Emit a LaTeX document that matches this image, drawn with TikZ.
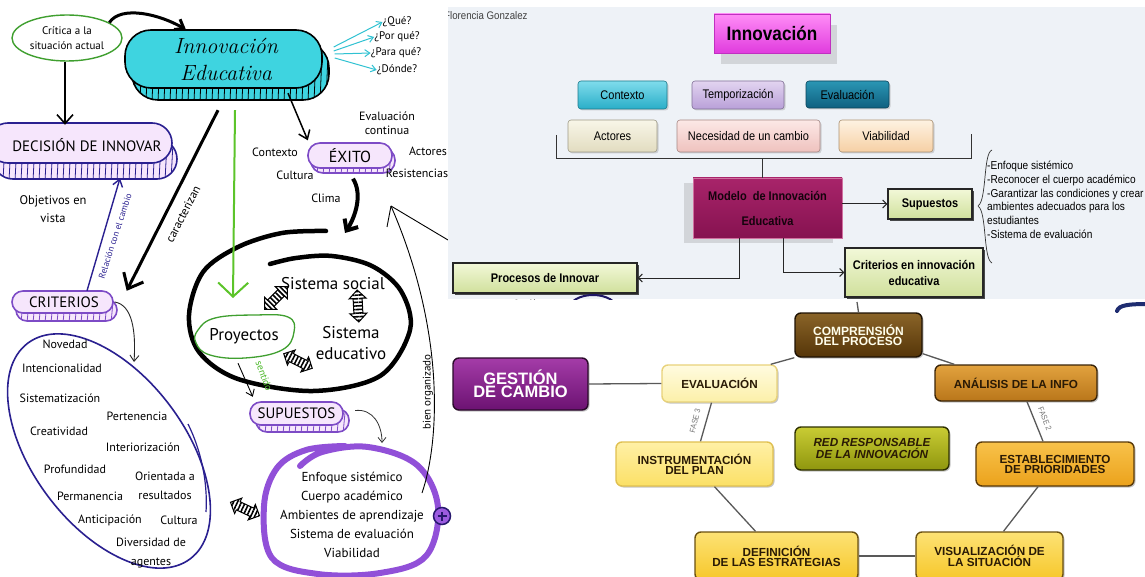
\documentclass[tikz,border=0pt]{standalone}
\usepackage{fontspec}
\usepackage{graphicx}
\newfontfamily\arial{Liberation Sans}
\newfontfamily\hand{PT Sans}
\usetikzlibrary{arrows.meta,shapes.geometric,shapes.arrows,shadows,patterns.meta}

\definecolor{innocyan}{HTML}{3ED4E0}
\definecolor{lav}{HTML}{F6E6FC}
\definecolor{navyline}{HTML}{2A2090}
\definecolor{purpleline}{HTML}{7D4BC6}
\definecolor{critgreen}{HTML}{3F9F2F}
\definecolor{greenline}{HTML}{5CC42A}
\definecolor{sentgreen}{HTML}{4CB82A}
\definecolor{cyanline}{HTML}{30C2D2}
\definecolor{blobpurple}{HTML}{9150D8}
\definecolor{plusfill}{HTML}{9C5BE0}
\definecolor{plusnavy}{HTML}{27186E}
\definecolor{panelbg}{HTML}{EEF2F7}
% upper diagram
\definecolor{magt}{HTML}{FF8CF6}\definecolor{magb}{HTML}{E03CDE}\definecolor{magd}{HTML}{C030C0}
\definecolor{ctxt}{HTML}{7FDCEC}\definecolor{ctxb}{HTML}{2AAEC8}
\definecolor{temt}{HTML}{E2D4F0}\definecolor{temb}{HTML}{B9A0D8}
\definecolor{evat}{HTML}{2A96B4}\definecolor{evab}{HTML}{0F6080}
\definecolor{actt}{HTML}{F8F6E8}\definecolor{actb}{HTML}{E2DCC0}
\definecolor{nect}{HTML}{FCE8E6}\definecolor{necb}{HTML}{EFC2BE}
\definecolor{viat}{HTML}{FEF2E2}\definecolor{viab}{HTML}{F6D0A4}
\definecolor{modt}{HTML}{A8246A}\definecolor{modb}{HTML}{861250}\definecolor{modd}{HTML}{D070A0}
\definecolor{gtop}{HTML}{F2F8D8}\definecolor{gbot}{HTML}{D0E09C}
% lower diagram
\definecolor{gestt}{HTML}{A43CA8}\definecolor{gestb}{HTML}{6C1272}\definecolor{gestd}{HTML}{2A0A2A}
\definecolor{compt}{HTML}{8A6428}\definecolor{compb}{HTML}{553508}\definecolor{compd}{HTML}{1E1204}
\definecolor{inft}{HTML}{E2A23E}\definecolor{infb}{HTML}{B9761A}\definecolor{infd}{HTML}{3A2408}
\definecolor{estt}{HTML}{F8C24A}\definecolor{estb}{HTML}{EBA21C}\definecolor{estd}{HTML}{5A3A08}
\definecolor{yelt}{HTML}{FDE274}\definecolor{yelb}{HTML}{F6C72A}\definecolor{yeld}{HTML}{6A5010}
\definecolor{inst}{HTML}{FFF0A6}\definecolor{insb}{HTML}{FBE066}\definecolor{insd}{HTML}{E0C050}
\definecolor{evlt}{HTML}{FFFBE0}\definecolor{evlb}{HTML}{FCF0A8}\definecolor{evld}{HTML}{E8D27A}
\definecolor{redt}{HTML}{C9CC34}\definecolor{redb}{HTML}{8F960E}\definecolor{redd}{HTML}{2E3000}
\definecolor{btext}{HTML}{2A1A05}

\newcommand\fs[2]{\fontsize{#1}{#2}\selectfont}
\newcommand\nar[1]{\scalebox{0.88}[1]{#1}}
% 3D pill: face (#1,#2)-(#3,#4), corner radius #5, depth offset (#6,#7), fill #8, outline #9
\newcommand\pill[9]{%
  \begin{scope}
    \clip[rounded corners=#5] ({#1+#6},{#2+#7}) rectangle ({#3+#6},{#4+#7});
    \fill[#8] ({#1+#6},{#2+#7}) rectangle ({#3+#6},{#4+#7});
    \foreach \k in {0,...,45}{\draw[#9,line width=.8] ({#1+6*\k},{#2}) -- ({#1+6*\k-3},{#4+#7+2});}
  \end{scope}
  \draw[#9,line width=1.6,rounded corners=#5] ({#1+#6},{#2+#7}) rectangle ({#3+#6},{#4+#7});
  \draw[#9,line width=1.6,rounded corners=#5,fill=#8] (#1,#2) rectangle (#3,#4);
}

\begin{document}
\begin{tikzpicture}[x=1pt,y=-1pt,
  lbl/.style={font=\hand\fs{12}{14}, inner sep=0, align=center},
  thinarr/.style={line width=1, -{Straight Barb[length=4pt,width=8pt]}},
  tbox/.style={draw=#1, line width=.6, rounded corners=3, inner sep=0, align=center,
    font=\arial\fs{12.5}{14}, drop shadow={shadow xshift=1.5pt,shadow yshift=-1.5pt,opacity=.3}},
  gbox/.style={draw=black!85, line width=1.2, top color=gtop, bottom color=gbot, inner sep=0,
    align=center, font=\arial\bfseries\fs{12.5}{16},
    drop shadow={shadow xshift=2pt,shadow yshift=-2pt,fill=black,opacity=.7}},
  bbox/.style={rounded corners=6, line width=1.4, inner sep=0, align=center, text=btext,
    font=\arial\bfseries\fs{11.7}{10},
    drop shadow={shadow xshift=1.5pt,shadow yshift=-1.5pt,opacity=.45}},
  conn/.style={draw=black!65, line width=1.3},
  dbl/.style={double arrow, draw=black, line width=1, minimum height=32, inner sep=4pt,
    double arrow head extend=4pt, fill=white,
    postaction={pattern={Lines[angle=#1,distance=3.6pt,line width=1.6pt]}}},
]
\fill[white] (0,0) rectangle (1145,577);
\useasboundingbox (0,0) rectangle (1145,577);

% ================= hand-drawn concept map =================
\node[ellipse, draw=critgreen, line width=1.4, minimum width=110, minimum height=46, lbl,
  font=\hand\fs{11}{15}] (crit) at (67,38) {Crítica a la\\situación actual};

\pill{125}{30}{322}{88}{26}{7}{12}{innocyan}{black}
\node[inner sep=0, minimum width=197, minimum height=58, align=center,
  font=\itshape\fs{22}{27}] (innov) at (226,59) {Innovación\\Educativa};
\draw[line width=3, -{Straight Barb[length=8pt,width=12pt]}]
  (crit.20) .. controls +(12,-18) and +(-25,-15) .. ([xshift=-40pt]innov.north);

\node[lbl, font=\hand\fs{11}{12}] (qa) at (397,22) {¿Qué?};
\node[lbl, font=\hand\fs{11}{12}] (qb) at (397,37) {¿Por qué?};
\node[lbl, font=\hand\fs{11}{12}] (qc) at (396,53) {¿Para qué?};
\node[lbl, font=\hand\fs{11}{12}] (qd) at (397,70) {¿Dónde?};
\begin{scope}[cyanline, line width=1, -{Straight Barb[length=5pt,width=7pt]}]
  \draw ([shift={(9,-12)}]innov.east) -- (qa.west);
  \draw ([shift={(9,-8)}]innov.east) -- (qb.west);
  \draw ([shift={(10,-5)}]innov.east) -- (qc.west);
  \draw ([shift={(10,-1)}]innov.east) -- (qd.west);
\end{scope}

% decision
\pill{-12}{123}{172}{163}{20}{5}{16}{lav}{navyline}
\node[lbl, font=\hand\fs{15}{16}, minimum width=170, minimum height=40] (decision) at (87,145) {DECISIÓN DE INNOVAR};
\draw[line width=1.6, -{Straight Barb[length=9pt,width=16pt]}] ([xshift=-2pt]crit.south) -- ([xshift=-22pt]decision.north);
\node[lbl, font=\hand\fs{12.5}{18}] (obj) at (53,209) {Objetivos en\\vista};

% criterios
\pill{12}{291}{113}{313}{11}{4}{8}{lav}{purpleline}
\node[lbl, font=\hand\fs{15}{16}, minimum width=101, minimum height=22] (criterios) at (64,302) {CRITERIOS};
\draw[line width=3, -{Straight Barb[length=13pt,width=22pt]}]
  ([shift={(-8,22)}]innov.south) -- ([xshift=12pt]criterios.north east);
\node[lbl, rotate=63] (carac) at (183,214) {caracterizan};
\draw[navyline, line width=1.4, -{Straight Barb[length=7pt,width=10pt]}]
  ([xshift=23pt]criterios.north) -- ([shift={(33,13)}]decision.south);
\node[lbl, font=\hand\fs{9}{10}, text=navyline, rotate=72] (relac) at (115,236) {Relación con el cambio};

% exito
\pill{308}{143}{392}{168}{12}{3}{5}{lav}{purpleline}
\node[lbl, font=\hand\fs{16}{17}, minimum width=84, minimum height=25] (exito) at (350,156) {ÉXITO};
\draw[line width=1.5, -{Straight Barb[length=8pt,width=12pt]}]
  ([shift={(62,5)}]innov.south) -- ([shift={(0,-3)}]exito.north west);
\node[lbl, align=center] (evc) at (387,123) {Evaluación\\continua};
\node[lbl] (ctx) at (275,152) {Contexto};
\node[lbl] (act) at (428,151) {Actores};
\node[lbl] (cul) at (295,175) {Cultura};
\node[lbl] (res) at (417,173) {Resistencias};
\node[lbl] (cli) at (326,198) {Clima};

% ring of systems
\coordinate (ringIn) at (345,233);
\draw[line width=4, -{Straight Barb[length=9pt,width=16pt]}]
  ([shift={(3,10)}]exito.south) .. controls +(10,16) and +(10,-16) .. (ringIn);
\draw[line width=4.5, line cap=round] plot[smooth, tension=.55] coordinates
  {(326,231) (282,233) (238,247) (203,272) (189,315) (199,352) (238,379) (313,391)
   (380,376) (410,330) (401,291) (372,266) (332,256) (296,258) (270,264)};

\coordinate (greenTip) at (233,298);
\draw[greenline, line width=2, -{Straight Barb[length=14pt,width=30pt]}]
  ([shift={(9,22)}]innov.south) -- (greenTip);

\draw[critgreen, line width=1.3] plot[smooth cycle, tension=.7] coordinates
  {(198,330) (215,318) (255,315) (288,317) (294,332) (282,350) (245,358) (210,355) (196,343)};
\node[lbl, font=\hand\fs{17}{18}, minimum width=98, minimum height=42] (proy) at (244,336) {Proyectos};
\node[lbl, font=\hand\fs{17}{18}] (soc) at (333,284) {Sistema social};
\node[lbl, font=\hand\fs{17}{21}] (edu) at (351,343) {Sistema\\educativo};

\node[dbl=135, rotate=45] (da1) at (276,298) {};
\node[dbl=183, rotate=93] (da2) at (358,306) {};
\node[dbl=63, rotate=-27] (da3) at (298,361) {};
\node[dbl=65, rotate=-25] (da4) at (245,509) {};

% supuestos
\pill{250}{402}{343}{425}{11}{6}{7}{lav}{purpleline}
\node[lbl, font=\hand\fs{15}{16}, minimum width=93, minimum height=23] (sup) at (296.5,413.5) {SUPUESTOS};
\node[lbl, font=\hand\fs{10}{11}, text=sentgreen, rotate=-70] (sent) at (264,376) {sentido};
\draw[line width=.9, -{Straight Barb[length=6pt,width=9pt]}]
  ([shift={(-6,6)}]proy.south) -- ([shift={(3,-5)}]sup.north west);

\draw[blobpurple, line width=6, line cap=round] plot[smooth, tension=.6] coordinates
  {(300,466) (322,452) (368,447) (417,465) (438,507) (426,556) (380,573) (318,574)
   (272,558) (264,506) (277,468) (306,450) (345,446)};
\node[lbl, font=\hand\fs{13}{19}] (supl) at (352,515)
  {Enfoque sistémico\\Cuerpo académico\\Ambientes de aprendizaje\\Sistema de evaluación\\Viabilidad};
\coordinate (listIn) at (382,443);
\draw[line width=.8, black!80, -{Straight Barb[length=5pt,width=8pt]}]
  ([shift={(12,-3)}]sup.east) .. controls +(18,-2) and +(0,-18) .. (listIn);

\node[circle, draw=plusnavy, fill=plusfill, line width=1.5, minimum size=17, inner sep=0] (plus) at (442,516) {};
\draw[plusnavy, line width=2.2] ([xshift=-4.5pt]plus.center) -- ([xshift=4.5pt]plus.center)
  ([yshift=-4.5pt]plus.center) -- ([yshift=4.5pt]plus.center);

\coordinate (bienTip) at (391,206);
\draw[line width=.9] ([shift={(-20,-23)}]plus.center) .. controls (440,440) and (445,330) .. (bienTip);
\draw[line width=.9] (bienTip) -- ++(-4,21) (bienTip) -- ++(57,34);
\node[lbl, font=\hand\fs{11}{12}, rotate=90] (bien) at (428,392) {bien organizado};

% criteria
\draw[navyline, line width=1.6, rotate around={-53:(109,451)}] (109,451) ellipse [x radius=135, y radius=76];
\draw[navyline, line width=1.2] (188,424) .. controls (200,448) and (208,480) .. (206,512);
\coordinate (critIn) at (134,362);
\draw[line width=.9, black!85, -{Straight Barb[length=6pt,width=9pt]}]
  (criterios.east) .. controls +(18,3) and +(2,-30) .. (critIn);
\node[lbl] (cNov) at (65,344) {Novedad};
\node[lbl] (cInt) at (62,368) {Intencionalidad};
\node[lbl] (cSis) at (60,398) {Sistematización};
\node[lbl] (cPer) at (137,416) {Pertenencia};
\node[lbl] (cCre) at (59,431) {Creatividad};
\node[lbl] (cInr) at (143,447) {Interiorización};
\node[lbl] (cPro) at (75,469) {Profundidad};
\node[lbl, font=\hand\fs{12}{19}] (cOri) at (165,486) {Orientada a\\resultados};
\node[lbl] (cPerm) at (90,496) {Permanencia};
\node[lbl] (cAnt) at (110,520) {Anticipación};
\node[lbl] (cCul) at (179,520) {Cultura};
\node[lbl, font=\hand\fs{12}{19}] (cDiv) at (151,553) {Diversidad de\\agentes};

% ================= innovation model panel =================
\fill[panelbg] (448,7) rectangle (1145,299);
\begin{scope}
\clip (448,7) rectangle (1145,299);
\node[anchor=west, font=\arial\fs{11}{12}, text=black!75, inner sep=0] (autor) at (444,16) {\nar{Florencia Gonzalez}};

\node[draw=magd, line width=.6, top color=magt, bottom color=magb, inner sep=0,
  minimum width=116, minimum height=39, font=\arial\bfseries\fs{19.5}{20},
  drop shadow={shadow xshift=7pt,shadow yshift=-11pt,opacity=.25}] (titulo) at (772,33.5) {\nar{Innovación}};

\node[tbox=ctxb!70!black, top color=ctxt, bottom color=ctxb, minimum width=89, minimum height=28] (bCtx) at (622.5,95) {\nar{Contexto}};
\node[tbox=temb!70!black, top color=temt, bottom color=temb, minimum width=92, minimum height=28] (bTem) at (738,95) {\nar{Temporización}};
\node[tbox=evab!70!black, top color=evat, bottom color=evab, minimum width=83, minimum height=27] (bEva) at (847.5,94.5) {\nar{Evaluación}};
\node[tbox=actb!70!black, top color=actt, bottom color=actb, minimum width=89, minimum height=32] (bAct) at (612.5,136) {\nar{Actores}};
\node[tbox=necb!70!black, top color=nect, bottom color=necb, minimum width=143, minimum height=32] (bNec) at (748.5,136) {\nar{Necesidad de un cambio}};
\node[tbox=viab!70!black, top color=viat, bottom color=viab, minimum width=94, minimum height=32] (bVia) at (886,136) {\nar{Viabilidad}};

\draw[black!80, line width=1] (556,135) -- (556,159) -- (971,159) -- (971,134);

\node[draw=modd, line width=.8, top color=modt, bottom color=modb, inner sep=0, align=center,
  minimum width=149, minimum height=60, text=black!85!modb, font=\arial\bfseries\fs{12.5}{25},
  drop shadow={shadow xshift=-9pt,shadow yshift=-5pt,opacity=.25}] (modelo) at (767.5,208)
  {\nar{Modelo\ \ de Innovación}\\\nar{Educativa}};
\draw[black!80, line width=1] ([xshift=-5.5pt]modelo.north) -- ++(0,-19);

\node[gbox, minimum width=84, minimum height=30] (bSup) at (930,204) {\nar{Supuestos}};
\node[gbox, minimum width=138, minimum height=49] (bCri) at (914,272.5) {\nar{Criterios en innovación}\\\nar{educativa}};
\node[gbox, minimum width=184, minimum height=30] (bPro) at (545,278) {\nar{Procesos de Innovar}};

\draw[thinarr, black!85] (modelo.east |- bSup.west) -- (bSup.west);
\draw[thinarr, black!85] ([xshift=-28.5pt]modelo.south) |- (bPro.east);
\draw[thinarr, black!85] ([xshift=15.5pt]modelo.south) |- (bCri.west);

\draw[black!80, line width=.7] (992,150) .. controls (983,153) and (987,200) .. (978,206)
  .. controls (987,212) and (983,259) .. (992,263);
\node[anchor=north west, align=left, inner sep=0, font=\arial\fs{11.5}{13.7}] (slist) at (987,161)
  {\nar{-Enfoque sistémico}\\\nar{-Reconocer el cuerpo académico}\\\nar{-Garantizar las condiciones y crear}\\
   \nar{ambientes adecuados para los}\\\nar{estudiantes}\\\nar{-Sistema de evaluación}};

\node[font=\arial\fs{9}{10}, inner sep=0] (gestion) at (527,303) {\nar{Gestión}};
\draw[navyline!70!black, line width=2] (593,309) ellipse [x radius=24, y radius=14];
\end{scope}

% ================= change management cycle =================
\draw[plusnavy!80!teal, line width=4, line cap=round] (1117,311) .. controls (1119,305) and (1128,304) .. (1150,304);

\node[bbox, draw=gestd, top color=gestt, bottom color=gestb, text=white, font=\arial\bfseries\fs{16.5}{13.5},
  minimum width=135, minimum height=52] (gest) at (520.5,384) {GESTIÓN\\DE CAMBIO};
\node[bbox, draw=evld, top color=evlt, bottom color=evlb, minimum width=115, minimum height=37] (eval) at (719.5,383.5) {EVALUACIÓN};
\node[bbox, draw=compd, top color=compt, bottom color=compb, text=white!92!yellow, font=\arial\bfseries\fs{12}{10},
  minimum width=127, minimum height=44] (comp) at (858.5,335) {COMPRENSIÓN\\DEL PROCESO};
\node[bbox, draw=infd, top color=inft, bottom color=infb, minimum width=162, minimum height=36] (info) at (1016,383) {ANÁLISIS DE LA INFO};
\node[bbox, draw=estd, top color=estt, bottom color=estb, minimum width=158, minimum height=44] (estab) at (1055,464) {ESTABLECIMIENTO\\DE PRIORIDADES};
\node[bbox, draw=yeld, top color=yelt, bottom color=yelb, minimum width=147, minimum height=48] (vis) at (989.5,556) {VISUALIZACIÓN DE\\LA SITUACIÓN};
\node[bbox, draw=yeld, top color=yelt, bottom color=yelb, minimum width=163, minimum height=48] (defi) at (776.5,556) {DEFINICIÓN\\DE LAS ESTRATEGIAS};
\node[bbox, draw=insd, top color=inst, bottom color=insb, minimum width=157, minimum height=44] (instr) at (694.5,464) {INSTRUMENTACIÓN\\DEL PLAN};
\node[bbox, draw=redd, top color=redt, bottom color=redb, font=\arial\bfseries\itshape\fs{11.7}{10},
  minimum width=154, minimum height=43] (red) at (872,448.5) {RED RESPONSABLE\\DE LA INNOVACIÓN};

\coordinate (compTop) at (857,302);
\draw[conn] (compTop) -- (comp.north);
\draw[conn] (gest.east) -- (eval.west);
\draw[conn] ([xshift=-7pt]eval.north east) -- (comp.south west);
\draw[conn] ([shift={(0,-4)}]comp.south east) -- ([xshift=20pt]info.north west);
\draw[conn] ([xshift=11pt]info.south) -- ([xshift=-12pt]estab.north);
\draw[conn] ([xshift=-17pt]estab.south) -- ([xshift=14pt]vis.north);
\draw[conn] (defi.east) -- (vis.west);
\draw[conn] ([xshift=20pt]instr.south) -- ([xshift=-21pt]defi.north);
\draw[conn] ([xshift=-8pt]eval.south) -- ([xshift=6pt]instr.north);
\node[font=\arial\fs{8}{9}, text=black!55, inner sep=0, rotate=76] (f3) at (695,421) {\nar{FASE 3}};
\node[font=\arial\fs{8}{9}, text=black!55, inner sep=0, rotate=-68] (f2) at (1045,419) {\nar{FASE 2}};
\end{tikzpicture}
\end{document}
